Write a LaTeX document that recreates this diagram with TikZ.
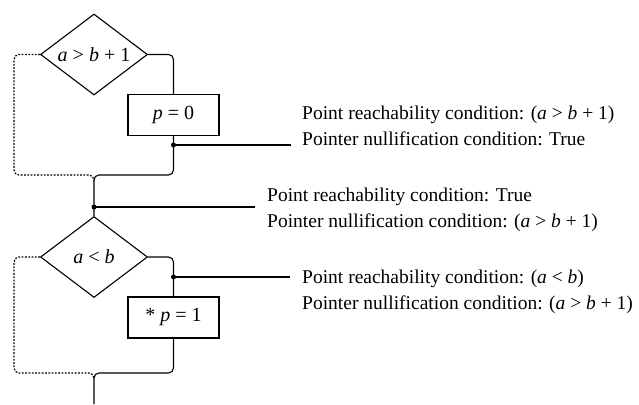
\documentclass[tikz,border=0pt]{standalone}
\usepackage{fontspec}
\setmainfont{Liberation Serif}
\usetikzlibrary{shapes.geometric}
\newcommand\vara{\textit{a}}
\newcommand\varb{\textit{b}}
\newcommand\varp{\textit{p}}
\begin{document}
\begin{tikzpicture}[x=1pt,y=-1pt,
  every node/.style={font=\fontsize{20}{26}\selectfont},
  flow/.style={line width=1.1pt, rounded corners=5pt},
  alt/.style={line width=1.2pt, dash pattern=on 1.8pt off 1.5pt, rounded corners=5pt},
  test/.style={draw, line width=1.1pt, shape=diamond, shape aspect=1.32, inner sep=0pt,
               minimum width=107pt, minimum height=81pt},
  stmt/.style={draw, line width=1.1pt, inner sep=0pt, minimum width=91pt, minimum height=41pt},
  joint/.style={circle, fill=black, inner sep=0pt, minimum size=5pt},
  note/.style={anchor=base west, inner sep=0pt, font=\fontsize{19.5}{26}\selectfont},
  lead/.style={line width=1.1pt}]
\useasboundingbox (0,0) rectangle (639,404);

% first branch
\node[test] (d1) at (94,54.5) {\vara\ >\ \varb\ +\ 1};
\node[stmt] (b1) at (173.5,115) {\varp\ =\ 0};
\coordinate (m1) at (94,175);
\node[joint] (j1) at (173.5,145) {};
\node[joint] (j2) at (94,207) {};

% second branch
\node[test] (d2) at (94,257) {\vara\ <\ \varb};
\node[stmt] (b2) at (173.5,317.5) {*\ \varp\ =\ 1};
\node[joint] (j3) at (173.5,277) {};
\coordinate (m2) at (94,373);
\coordinate (out) at (94,404);

% taken paths
\draw[flow] (d1.east) -| (b1.north);
\draw[flow] (b1.south) -- (j1.center) |- (m1) -- (j2.center) -- (d2.north);
\draw[flow] (d2.east) -| (j3.center) -- (b2.north);
\draw[flow] (b2.south) |- (m2) -- (out);

% skipped paths
\draw[alt] (d1.west) -- (14,54.5) -- (14,175) -- (m1) -- ++(0,6);
\draw[alt] (d2.west) -- (14,257) -- (14,373) -- (m2) -- ++(0,6);

% annotations
\coordinate (e1) at (291,145);
\coordinate (e2) at (255,207);
\coordinate (e3) at (290,277);
\draw[lead] (j1.center) -- (e1);
\draw[lead] (j2.center) -- (e2);
\draw[lead] (j3.center) -- (e3);

\node[note] (r1) at (302,119) {Point reachability condition: (\vara\ > \varb\ + 1)};
\node[note] (n1) at (302,145.5) {Pointer nullification condition: True};
\node[note] (r2) at (267,201.5) {Point reachability condition: True};
\node[note] (n2) at (267,227.5) {Pointer nullification condition: (\vara\ > \varb\ + 1)};
\node[note] (r3) at (302,283) {Point reachability condition: (\vara\ < \varb)};
\node[note] (n3) at (302,309) {Pointer nullification condition: (\vara\ > \varb\ + 1)};
\end{tikzpicture}
\end{document}
